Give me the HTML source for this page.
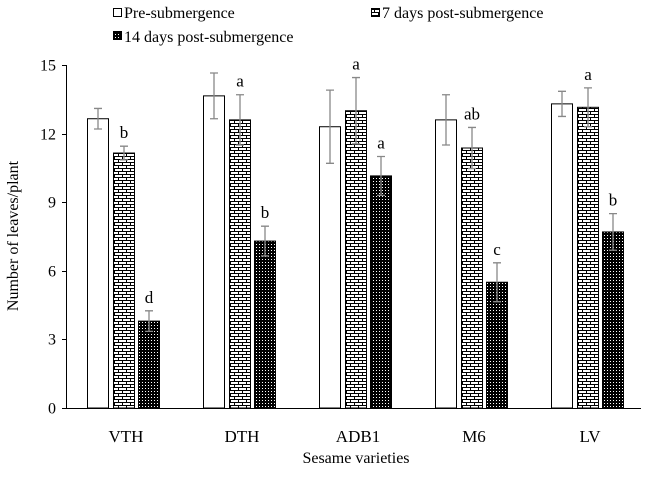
<!DOCTYPE html>
<html><head><meta charset="utf-8"><style>
body{margin:0;background:#fff}
svg text{font-family:"Liberation Serif",serif;fill:#000}
</style></head><body>
<svg id="chart" width="658" height="477">
<defs>
<pattern id="brick" width="8" height="6" patternUnits="userSpaceOnUse">
<rect width="8" height="6" fill="#fff"/>
<path d="M0 0.5H8M0 3.5H8M2.5 0.5V3.5M6.5 3.5V6.5" stroke="#000" stroke-width="1" fill="none"/>
</pattern>
<pattern id="dots" width="3" height="3" patternUnits="userSpaceOnUse">
<rect width="3" height="3" fill="#000"/>
<rect x="1" y="1" width="1" height="1" fill="#fff"/>
</pattern>
</defs>
<g id="legend">
<g><rect x="113.5" y="8.5" width="8" height="8" fill="#fff" stroke="#000"/><text x="124" y="18" font-size="16">Pre-submergence</text></g>
<g><rect x="371.5" y="8.5" width="8" height="8" fill="url(#brick)" stroke="#000"/><text x="382" y="18" font-size="16">7  days post-submergence</text></g>
<g><rect x="113.5" y="31.5" width="8" height="8" fill="url(#dots)" stroke="#000"/><text x="124" y="42" font-size="16">14 days post-submergence</text></g>
</g>
<g id="plot"></g>
<text x="18" y="236" font-size="16" text-anchor="middle" transform="rotate(-90 18 236)">Number of leaves/plant</text>
<text x="356" y="463" font-size="16" text-anchor="middle">Sesame varieties</text>
</svg>
<script>
const categories=["VTH","DTH","ADB1","M6","LV"];
const preVals=[12.65,13.65,12.3,12.6,13.3];
const preErr=[0.45,1.0,1.6,1.1,0.55];
const d7Vals=[11.15,12.6,13.0,11.37,13.15];
const d7Err=[0.3,1.1,1.45,0.9,0.85];
const d14Vals=[3.8,7.3,10.15,5.5,7.7];
const d14Err=[0.45,0.65,0.85,0.85,0.8];
const d7Letters=["b","a","a","ab","a"];
const d14Letters=["d","b","a","c","b"];
const yTicks=[0,3,6,9,12,15];

const NS="http://www.w3.org/2000/svg";
const g=document.getElementById("plot");
const x0=65,x1=645,y0=408,y1=65,yMax=15;
const y=v=>y0-(v/yMax)*(y0-y1);
const band=(x1-x0)/categories.length;
const cx=i=>x0+band*(i+0.5);
function mk(t,a,p){const e=document.createElementNS(NS,t);for(const k in a)e.setAttribute(k,a[k]);(p||g).appendChild(e);return e;}

const ya=mk("line",{x1:66.5,y1:y1,x2:66.5,y2:y0,stroke:"#000"});


yTicks.forEach(t=>{
 const yy=Math.round(y(t))+0.5;
 const tk=mk("line",{x1:62,y1:yy,x2:66.5,y2:yy,stroke:"#000"});
 
 
 const tl=mk("text",{x:56,y:yy+5,"font-size":16,"text-anchor":"end"});
 tl.textContent=t;
 
 
});
const xa=mk("line",{x1:66,y1:y0+0.5,x2:641,y2:y0+0.5,stroke:"#000"});



const series=[[preVals,preErr,"#fff",null,-25.5,"pre"],[d7Vals,d7Err,"url(#brick)",d7Letters,0,"7d"],[d14Vals,d14Err,"url(#dots)",d14Letters,25.5,"14d"]];
const bw=21;
categories.forEach((c,i)=>{
 series.forEach(([vals,err,fill,letters,off,nm])=>{
  const bx=Math.round(cx(i)+off-bw/2)+0.5;
  const r=mk("rect",{x:bx,y:y(vals[i]),width:bw,height:y0-y(vals[i]),fill:fill,stroke:"#000"});
  
  
  const mx=bx+bw/2,et=y(vals[i]+err[i]),eb=y(vals[i]-err[i]);
  const eg=mk("path",{d:`M${mx} ${et}V${eb}M${mx-4} ${et}H${mx+4}M${mx-4} ${eb}H${mx+4}`,stroke:"#888","stroke-width":1.3,fill:"none"});
  
  
  if(letters){
   const lt=mk("text",{x:mx,y:et-8,"font-size":17,"text-anchor":"middle"});
   lt.textContent=letters[i];
   
   
  }
 });
 const xl=mk("text",{x:cx(i)+3,y:442,"font-size":17,"text-anchor":"middle"});
 xl.textContent=c;
 
 
});
</script>
</body></html>
